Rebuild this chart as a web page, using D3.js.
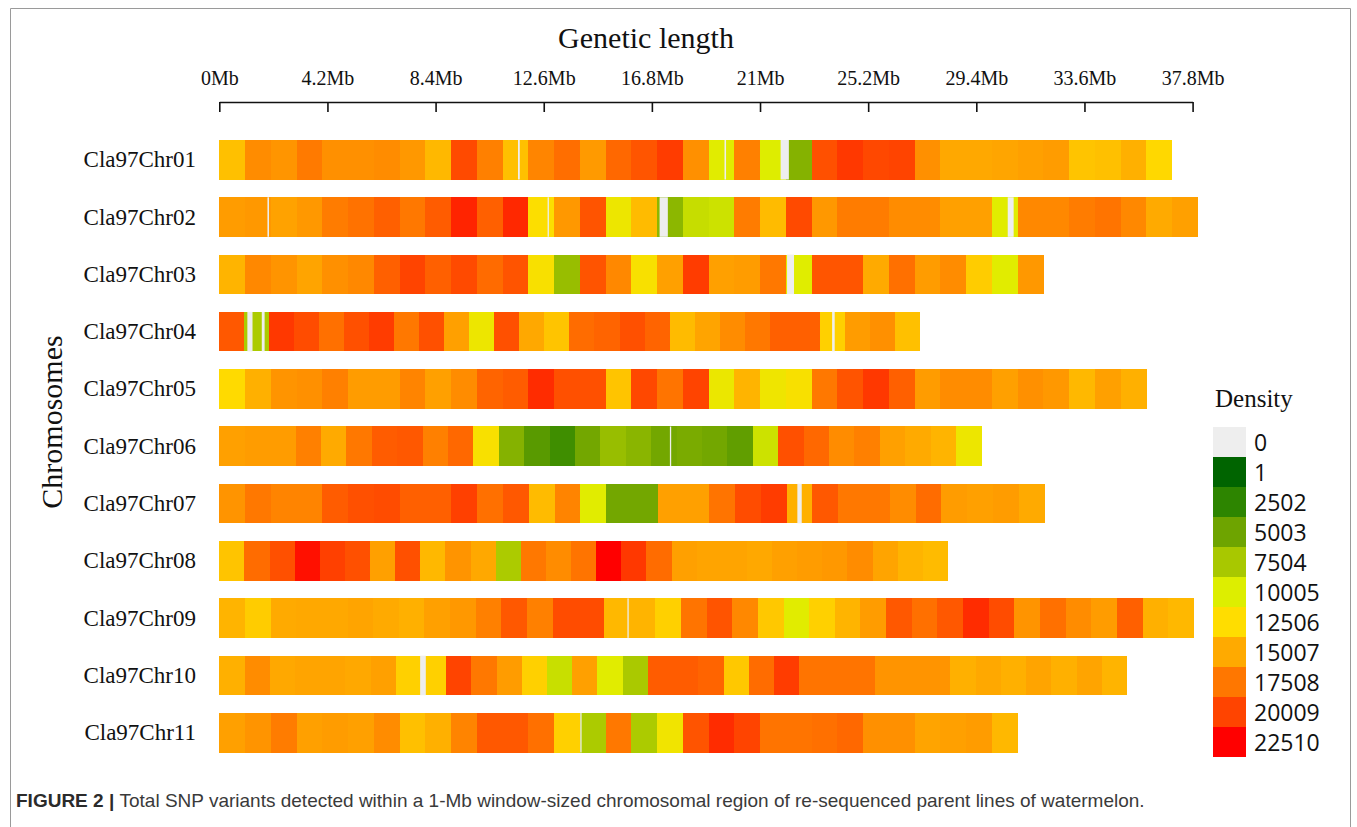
<!DOCTYPE html>
<html>
<head>
<meta charset="utf-8">
<script src="https://cdn.jsdelivr.net/npm/d3@7/dist/d3.min.js"></script>
<style>
  html, body { margin: 0; padding: 0; background: #ffffff; }
  svg { display: block; }
</style>
</head>
<body>
<svg id="chart" width="1357" height="827"></svg>
<script>
// SNP counts per window, one array per chromosome; windows split each chromosome evenly
const chromosomes = ["Cla97Chr01", "Cla97Chr02", "Cla97Chr03", "Cla97Chr04", "Cla97Chr05", "Cla97Chr06",
                     "Cla97Chr07", "Cla97Chr08", "Cla97Chr09", "Cla97Chr10", "Cla97Chr11"];

// Drawn chromosome lengths (Mb)
const chromLengths = [37.0, 38.0, 32.0, 27.2, 36.0, 29.6, 32.05, 28.3, 37.85, 35.25, 31.0];

const chr01 = [13930, 16480, 16040, 17360, 16280, 16280, 16480, 15890, 14320, 19710, 17070, 13930, 16820,
               17950, 15790, 18240, 19170, 20300, 16280, 10300, 17070, 10100, 6000, 19420, 20450, 19810,
               20009, 16280, 15110, 15110, 15250, 15500, 15690, 13730, 13930, 14710, 12750];
const chr02 = [15690, 15890, 15400, 15890, 17260, 17750, 18640, 17460, 18830, 21190, 18640, 21040, 12300,
               15890, 19220, 11200, 14170, 6300, 8900, 9200, 17260, 14170, 19710, 15890, 17260, 17260,
               16480, 16480, 15500, 15500, 10300, 16670, 16670, 17260, 17650, 16670, 15010, 15500];
const chr03 = [14520, 16670, 16090, 15300, 16280, 16670, 18640, 20009, 18640, 19710, 18100, 19220, 12000,
               6800, 19220, 16670, 12000, 15500, 20300, 15500, 15690, 17460, 10200, 19170, 19170, 15010,
               17850, 15690, 16480, 13340, 10300, 15890];
const chr04 = [19030, 7700, 20450, 19620, 17850, 19420, 20300, 17460, 19420, 15500, 11200, 19420, 15110,
               13730, 18050, 18440, 19420, 18440, 14170, 15300, 16480, 17460, 18640, 18640, 13140, 15690,
               16280, 13930];
const chr05 = [12650, 14710, 16090, 16280, 17070, 15690, 15690, 16870, 15500, 16480, 18440, 18830, 20900,
               19420, 19420, 13730, 19810, 17650, 20009, 11000, 14520, 11300, 12000, 17460, 19220, 20450,
               18640, 15690, 16480, 16480, 15500, 16280, 15890, 14320, 15500, 14710];
const chr06 = [15500, 15690, 15690, 17070, 15010, 17460, 18830, 19030, 17070, 18240, 12000, 6000, 4200,
               3200, 5200, 6800, 6200, 5200, 5500, 5200, 4500, 9200, 19420, 18240, 16480, 17070, 15500,
               15010, 14520, 11200];
const chr07 = [16090, 17460, 16870, 16870, 18830, 19420, 19620, 18640, 18640, 20160, 17850, 19030, 14170,
               16870, 10300, 5200, 5200, 15500, 15500, 17650, 19620, 20300, 14710, 19030, 17460, 17460,
               16480, 18050, 15690, 15500, 15690, 15010];
const chr08 = [13730, 18050, 19420, 21920, 20160, 19420, 15500, 19420, 14320, 16090, 15110, 7700, 17460,
               16480, 17650, 22510, 20450, 18050, 15500, 15300, 15300, 15110, 15500, 15690, 15890, 16480,
               15300, 14520, 14170];
const chr09 = [14520, 13340, 15010, 15110, 15110, 15300, 15010, 14710, 15500, 15890, 17070, 19030, 17070,
               19620, 19620, 14320, 14520, 13140, 17650, 19220, 16670, 13540, 10300, 13140, 14520, 15690,
               19030, 17850, 19030, 20900, 19620, 16090, 17850, 16480, 15690, 18640, 14710, 14320];
const chr10 = [14710, 16480, 15110, 15300, 15300, 15110, 15500, 13140, 13140, 20009, 17460, 15690, 13140,
               9000, 15500, 10300, 7600, 18830, 18830, 18440, 13540, 18050, 20300, 17650, 17650, 17650,
               16090, 16090, 16090, 14710, 15110, 14710, 15300, 14710, 15300, 14520];
const chr11 = [15500, 16090, 17260, 15500, 15690, 15500, 16480, 13930, 14710, 16870, 19030, 19030, 17850,
               13140, 7700, 17460, 7700, 11500, 19220, 20900, 20009, 17650, 17650, 17850, 18240, 16280,
               16280, 15300, 15500, 15690, 14320];

// Short stretches with no SNP calls: [chromosome, start Mb, end Mb]
const zeroGaps = [
  ["Cla97Chr01", 11.60, 11.67], ["Cla97Chr01", 19.62, 19.68], ["Cla97Chr01", 21.80, 22.12],
  ["Cla97Chr02", 1.87, 1.93], ["Cla97Chr02", 12.75, 12.80], ["Cla97Chr02", 17.10, 17.42],
  ["Cla97Chr02", 30.62, 30.85],
  ["Cla97Chr03", 22.05, 22.32],
  ["Cla97Chr04", 1.09, 1.29], ["Cla97Chr04", 1.65, 1.76], ["Cla97Chr04", 23.80, 23.90],
  ["Cla97Chr06", 17.50, 17.55],
  ["Cla97Chr07", 22.45, 22.62],
  ["Cla97Chr09", 15.85, 15.90],
  ["Cla97Chr10", 7.80, 8.02],
  ["Cla97Chr11", 14.02, 14.07]
];

// Axis ticks (Mb) and legend breaks
const axisTicks = [0, 4.2, 8.4, 12.6, 16.8, 21, 25.2, 29.4, 33.6, 37.8];
const legendBreaks = [0, 1, 2502, 5003, 7504, 10005, 12506, 15007, 17508, 20009, 22510];
const legendColors = ["#eeeeee", "#006400", "#2d8500", "#6ea400", "#a8c800", "#ddee00",
                      "#ffdd00", "#ffaa00", "#ff7700", "#ff4400", "#ff0000"];

const windowValues = [chr01, chr02, chr03, chr04, chr05, chr06, chr07, chr08, chr09, chr10, chr11];

const svg = d3.select("#chart");
const serif = "'Liberation Serif', 'Times New Roman', serif";

const x = d3.scaleLinear().domain([0, 37.8]).range([219.3, 1192.6]);
const y = d3.scaleBand().domain(chromosomes).range([140, 752.5]).paddingInner(0.3106).paddingOuter(0);

const color = d3.scaleLinear()
  .domain(legendBreaks.slice(1))
  .range(legendColors.slice(1))
  .interpolate(d3.interpolateRgb)
  .clamp(true);
const fill = v => v <= 0 ? legendColors[0] : color(v);

// Window cells
const cells = [];
chromosomes.forEach((chr, i) => {
  const vals = windowValues[i];
  const step = chromLengths[i] / vals.length;
  vals.forEach((v, j) => cells.push({ chr, start: j * step, end: (j + 1) * step, v }));
});

const rows = svg.append("g").attr("class", "cells");
rows.selectAll("rect.cell")
  .data(cells)
  .join("rect")
  .attr("class", "cell")
  .attr("x", d => x(d.start))
  .attr("y", d => y(d.chr))
  .attr("width", d => x(d.end) - x(d.start) + 0.4)
  .attr("height", y.bandwidth())
  .attr("fill", d => fill(d.v))
  .attr("shape-rendering", "crispEdges");

rows.selectAll("rect.gap")
  .data(zeroGaps)
  .join("rect")
  .attr("class", "gap")
  .attr("x", d => x(d[1]))
  .attr("y", d => y(d[0]))
  .attr("width", d => Math.max(1.2, x(d[2]) - x(d[1])))
  .attr("height", y.bandwidth())
  .attr("fill", fill(0));

// Chromosome labels
svg.append("g").selectAll("text")
  .data(chromosomes)
  .join("text")
  .attr("x", 196)
  .attr("y", d => y(d) + y.bandwidth() / 2 + 7.5)
  .attr("text-anchor", "end")
  .attr("font-family", serif)
  .attr("font-size", 23)
  .attr("fill", "#111")
  .text(d => d);

// Top axis, ticks hanging below the line
const axis = d3.axisTop(x)
  .tickValues(axisTicks)
  .tickFormat(d => d + "Mb")
  .tickSizeInner(-10)
  .tickSizeOuter(0)
  .tickPadding(17);
const axisG = svg.append("g").attr("transform", "translate(0,102)").call(axis);
axisG.select(".domain").attr("stroke", "#111").attr("stroke-width", 1.6);
axisG.selectAll(".tick line").attr("stroke", "#111").attr("stroke-width", 1.6);
axisG.selectAll(".tick text")
  .attr("font-family", serif)
  .attr("font-size", 20)
  .attr("fill", "#111");

// Titles
svg.append("text")
  .attr("x", 646).attr("y", 48)
  .attr("text-anchor", "middle")
  .attr("font-family", serif).attr("font-size", 30).attr("fill", "#111")
  .text("Genetic length");

svg.append("text")
  .attr("transform", "translate(62,422) rotate(-90)")
  .attr("text-anchor", "middle")
  .attr("font-family", serif).attr("font-size", 30).attr("fill", "#111")
  .text("Chromosomes");

// Legend
const legend = svg.append("g").attr("transform", "translate(1213,427)");
legend.append("text")
  .attr("x", 2).attr("y", -20)
  .attr("font-family", serif).attr("font-size", 25).attr("fill", "#111")
  .text("Density");
legend.selectAll("rect")
  .data(legendBreaks)
  .join("rect")
  .attr("x", 0)
  .attr("y", (d, i) => i * 30)
  .attr("width", 33)
  .attr("height", 30)
  .attr("fill", (d, i) => legendColors[i]);
legend.selectAll("text.lab")
  .data(legendBreaks)
  .join("text")
  .attr("class", "lab")
  .attr("x", 41)
  .attr("y", (d, i) => i * 30 + 24)
  .attr("font-family", "'Open Sans', 'Noto Sans', sans-serif")
  .attr("font-size", 23)
  .attr("fill", "#111")
  .text(d => d);

// Frame
svg.append("path")
  .attr("d", "M10.5,827 V8.5 H1350.5 V827")
  .attr("fill", "none")
  .attr("stroke", "#9a9a9a")
  .attr("stroke-width", 1);

// Caption
const cap = svg.append("text")
  .attr("x", 16).attr("y", 807)
  .attr("font-family", "'Liberation Sans', Arial, sans-serif")
  .attr("font-size", 19)
  .attr("fill", "#3a3a3a");
cap.append("tspan").attr("font-weight", "bold").attr("fill", "#2b2b2b").text("FIGURE 2 | ");
cap.append("tspan").text("Total SNP variants detected within a 1-Mb window-sized chromosomal region of re-sequenced parent lines of watermelon.");
</script>
</body>
</html>
